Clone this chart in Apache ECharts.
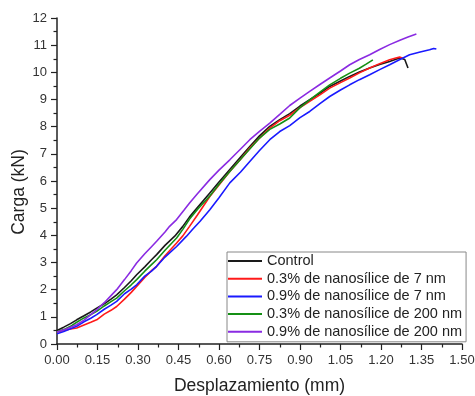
<!DOCTYPE html>
<html>
<head>
<meta charset="utf-8">
<script src="https://cdn.jsdelivr.net/npm/echarts@6/dist/echarts.min.js"></script>
<style>
html,body{margin:0;padding:0;background:#fff;}
#c{width:475px;height:396px;}
</style>
</head>
<body>
<div id="c"></div>
<script>
const seriesNames = ['Control','0.3% de nanosílice de 7 nm','0.9% de nanosílice de 7 nm','0.3% de nanosílice de 200 nm','0.9% de nanosílice de 200 nm'];
const seriesColors = ['#1a1a1a','#ff1a1a','#1a1aff','#159015','#8a2be2'];

const controlX = [0,0.025,0.05,0.073,0.1,0.125,0.147,0.175,0.2,0.221,0.25,0.275,0.295,0.325,0.35,0.369,0.4,0.436,0.466,0.491,0.52,0.566,0.6,0.64,0.68,0.714,0.75,0.788,0.825,0.862,0.9,0.936,0.975,1.01,1.05,1.084,1.12,1.158,1.195,1.232,1.255,1.272,1.288,1.3];
const controlY = [0.5,0.62,0.75,0.89,1.04,1.18,1.32,1.48,1.65,1.81,2.08,2.33,2.55,2.84,3.1,3.29,3.63,3.97,4.33,4.68,5.02,5.56,5.96,6.42,6.88,7.27,7.66,8.01,8.26,8.48,8.76,8.99,9.24,9.48,9.68,9.85,10.01,10.16,10.29,10.4,10.48,10.53,10.47,10.16];

const red7X = [0,0.025,0.05,0.073,0.1,0.125,0.147,0.175,0.2,0.221,0.25,0.275,0.295,0.325,0.35,0.369,0.4,0.443,0.466,0.491,0.52,0.566,0.6,0.64,0.68,0.714,0.75,0.788,0.825,0.862,0.9,0.936,0.975,1.01,1.05,1.084,1.12,1.158,1.195,1.232,1.255,1.269,1.281];
const red7Y = [0.44,0.5,0.55,0.59,0.7,0.8,0.89,1.1,1.24,1.38,1.65,1.9,2.12,2.45,2.7,2.86,3.25,3.72,3.98,4.33,4.75,5.43,5.85,6.35,6.8,7.21,7.58,7.95,8.22,8.42,8.7,8.93,9.18,9.42,9.62,9.79,9.98,10.16,10.32,10.46,10.53,10.56,10.52];

const blue7X = [0,0.025,0.05,0.073,0.1,0.125,0.147,0.175,0.2,0.221,0.25,0.275,0.295,0.325,0.35,0.369,0.4,0.443,0.479,0.505,0.53,0.566,0.6,0.64,0.68,0.714,0.75,0.788,0.825,0.862,0.9,0.936,0.975,1.01,1.05,1.084,1.12,1.158,1.195,1.232,1.27,1.306,1.345,1.38,1.395,1.405];
const blue7Y = [0.38,0.46,0.56,0.65,0.82,0.95,1.08,1.28,1.43,1.57,1.85,2.02,2.18,2.5,2.68,2.86,3.2,3.59,3.96,4.25,4.52,4.94,5.38,5.93,6.33,6.72,7.12,7.52,7.82,8.04,8.33,8.56,8.86,9.11,9.35,9.54,9.73,9.91,10.1,10.28,10.47,10.65,10.75,10.83,10.88,10.86];

const green200X = [0,0.025,0.05,0.073,0.1,0.125,0.147,0.175,0.2,0.221,0.25,0.275,0.295,0.325,0.35,0.369,0.4,0.443,0.466,0.491,0.52,0.566,0.6,0.64,0.68,0.714,0.75,0.788,0.825,0.862,0.9,0.936,0.975,1.01,1.05,1.084,1.12,1.145,1.17];
const green200Y = [0.45,0.53,0.65,0.8,0.96,1.08,1.2,1.4,1.56,1.69,1.96,2.18,2.37,2.68,2.92,3.1,3.45,3.9,4.22,4.6,4.95,5.45,5.88,6.35,6.8,7.18,7.58,7.9,8.1,8.32,8.7,8.99,9.28,9.54,9.78,9.97,10.15,10.3,10.46];

const purple200X = [0,0.025,0.05,0.073,0.1,0.125,0.147,0.175,0.2,0.221,0.25,0.275,0.295,0.325,0.35,0.369,0.4,0.417,0.443,0.47,0.491,0.52,0.566,0.6,0.64,0.68,0.714,0.75,0.788,0.825,0.862,0.9,0.936,0.975,1.01,1.05,1.084,1.12,1.158,1.195,1.232,1.27,1.3,1.331];
const purple200Y = [0.44,0.52,0.62,0.71,0.88,1.08,1.26,1.52,1.78,2.0,2.37,2.7,2.98,3.32,3.58,3.78,4.12,4.33,4.58,4.92,5.19,5.53,6.05,6.4,6.78,7.18,7.52,7.83,8.13,8.45,8.78,9.05,9.3,9.56,9.79,10.05,10.28,10.47,10.65,10.84,11.02,11.18,11.3,11.41];

const xTicks = {min:0, max:1.5, interval:0.15};
const yTicks = {min:0, max:12, interval:1};

const allX = [controlX, red7X, blue7X, green200X, purple200X];
const allY = [controlY, red7Y, blue7Y, green200Y, purple200Y];

const FONT = '"Liberation Sans", Arial, sans-serif';
const axisCommon = {
  axisLine:{show:true, onZero:false, lineStyle:{color:'#222', width:1.5}},
  axisTick:{show:true, length:6, lineStyle:{color:'#222', width:1.2}},
  minorTick:{show:true, splitNumber:2, length:3.5, lineStyle:{color:'#222', width:1.2}},
  splitLine:{show:false},
  nameMoveOverlap:false,
  nameTextStyle:{fontFamily:FONT, fontSize:17.5, color:'#222'}
};

const chart = echarts.init(document.getElementById('c'), null, {renderer:'canvas'});
chart.setOption({
  animation:false,
  backgroundColor:'#fff',
  grid:{left:57, top:18, width:405, height:326, containLabel:false, outerBoundsMode:'none'},
  xAxis:Object.assign({}, axisCommon, {
    type:'value', min:xTicks.min, max:xTicks.max, interval:xTicks.interval,
    name:'Desplazamiento (mm)', nameLocation:'middle', nameGap:33,
    axisLabel:{fontFamily:FONT, fontSize:13, color:'#333', margin:10, formatter:v=>v.toFixed(2)}
  }),
  yAxis:Object.assign({}, axisCommon, {
    type:'value', min:yTicks.min, max:yTicks.max, interval:yTicks.interval,
    name:'Carga (kN)', nameLocation:'middle', nameGap:29,
    nameTextStyle:{fontFamily:FONT, fontSize:17.5, color:'#222', padding:[0,22,0,0]},
    axisLabel:{fontFamily:FONT, fontSize:13, color:'#333', margin:10}
  }),
  legend:{
    orient:'vertical', left:227, top:252,
    icon:'rect', itemWidth:34, itemHeight:2, itemGap:1.7,
    padding:[1,4,2,1],
    borderColor:'#888', borderWidth:1,
    textStyle:{fontFamily:FONT, fontSize:14.5, color:'#222', lineHeight:16},
    data:seriesNames
  },
  series:seriesNames.map((n,i)=>({
    name:n, type:'line', showSymbol:false, symbol:'none',
    data:allX[i].map((x,j)=>[x, allY[i][j]]),
    lineStyle:{color:seriesColors[i], width:1.6},
    itemStyle:{color:seriesColors[i]},
    z:2+i
  }))
});
</script>
</body>
</html>
